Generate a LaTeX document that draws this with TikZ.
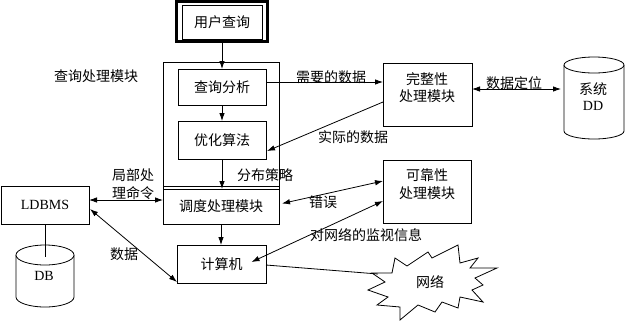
\documentclass[tikz,border=0pt]{standalone}
\usepackage{fontspec}
\setmainfont{Liberation Serif}
\newfontfamily\cjk{Noto Sans CJK SC}
\usetikzlibrary{arrows.meta,calc}
\begin{document}
\begin{tikzpicture}[x=1pt,y=-1pt,
  every node/.style={inner sep=0pt, outer sep=0pt},
  box/.style={draw, line width=0.8pt, rectangle, fill=white},
  txt/.style={font=\cjk\fontsize{14}{17}\selectfont, align=center},
  lat/.style={font=\fontsize{14}{16}\selectfont, align=center},
  ar/.style={line width=0.8pt, -{Latex[length=8pt,width=5.5pt]}},
  dar/.style={line width=0.8pt, {Latex[length=8pt,width=5.5pt]}-{Latex[length=8pt,width=5.5pt]}},
  ln/.style={line width=0.8pt}]
\useasboundingbox[fill=white] (0,0) rectangle (626,325);

% user query (double frame)
\node[box, line width=3pt, minimum width=91pt, minimum height=40pt] (uqo) at (222,21.5) {};
\node[box, minimum width=80pt, minimum height=34pt, txt] (uq) at (222,22) {用户查询};

% query processing module
\node[box, minimum width=116pt, minimum height=162pt] (qm) at (221,143) {};
\node[txt] (qmt) at (96,76) {查询处理模块};
\node[box, minimum width=88pt, minimum height=36pt, txt] (fx) at (222,87) {查询分析};
\node[box, minimum width=88pt, minimum height=38pt, txt] (yh) at (222,140) {优化算法};
\node[box, minimum width=116pt, minimum height=35pt, txt] (dd) at (221,206.5) {调度处理模块};
\coordinate (dl) at (163,186);
\coordinate (dr) at (279,186);
\draw[ln] (dl) -- (dr);
\node[txt] (fb) at (265,175) {分布策略};

% computer
\node[box, minimum width=89pt, minimum height=38pt, txt] (jsj) at (221.5,264) {计算机};

% LDBMS and DB
\node[box, minimum width=88pt, minimum height=38pt, lat] (ldbms) at (45,205) {LDBMS};
\draw[ln, fill=white] (16,255) -- (16,297) arc[start angle=180, end angle=360, x radius=29pt, y radius=10pt] -- (74,255);
\draw[ln, fill=white] (45,255) ellipse[x radius=29pt, y radius=10pt];
\coordinate (dbtop) at (45,257);
\node[lat] (db) at (44,276) {DB};
\draw[ln] (ldbms.south) -- (dbtop);

% integrity module
\node[box, minimum width=89pt, minimum height=63pt] (wz) at (427.5,94.5) {};
\node[txt] (wzt) at (427,87.5) {完整性\\处理模块};

% reliability module
\node[box, minimum width=88pt, minimum height=63pt] (kk) at (427,191.5) {};
\node[txt, font=\cjk\fontsize{14}{18}\selectfont] (kkt) at (427,184) {可靠性\\处理模块};

% system DD
\draw[ln, fill=white] (564,65) -- (564,131) arc[start angle=180, end angle=360, x radius=30pt, y radius=8pt] -- (624,65);
\draw[ln, fill=white] (594,65) ellipse[x radius=30pt, y radius=8pt];
\node[lat] (sdd) at (593,97) {{\cjk 系统}\\DD};
\coordinate (ddw) at (561,89);

% network
\draw[ln, fill=white] (372,273) -- (392,273) -- (395,258) -- (407,266) -- (428,252) -- (432,258) -- (458,245) -- (460,263) -- (478,258) -- (470,268) -- (497,268) -- (475,278) -- (483,285) -- (472,290) -- (483,302) -- (460,297) -- (458,308) -- (442,302) -- (435,312) -- (418,305) -- (400,320) -- (400,307) -- (377,305) -- (388,297) -- (368,290) -- (385,282) -- cycle;
\coordinate (nettip) at (378,274);
\node[txt] (net) at (430,282) {网络};

% vertical flow
\draw[ar] (uq.south) -- (fx.north);
\draw[ar] (fx.south) -- (yh.north);
\draw[ar] (yh.south) -- (yh.south |- dd.north);
\draw[ar] (dd.south) -- (dd.south |- jsj.north);

% connectors
\draw[ar] ($(fx.east)+(0,-5)$) -- ($(wz.west)+(0,-12.5)$);
\node[txt] (xy) at (331,77) {需要的数据};
\draw[ar] ($(wz.west)+(0,7.5)$) -- ($(yh.east)+(1,11)$);
\node[txt] (sj) at (353,137) {实际的数据};
\draw[dar] ($(wz.east)+(0,-5.5)$) -- (ddw);
\node[txt] (dw) at (514,83) {数据定位};
\draw[dar] ($(dd.east)+(3,-3)$) -- ($(kk.west)+(0,-10.5)$);
\node[txt] (cw) at (323,202) {错误};
\draw[dar] ($(jsj.center)+(30,-2)$) -- ($(kk.west)+(0,9.5)$);
\node[txt] (jk) at (366,235) {对网络的监视信息};
\draw[ln] ($(jsj.east)+(0,1)$) -- (nettip);
\draw[dar] ($(ldbms.east)+(0,-5)$) -- ($(dd.west)+(0,-6.5)$);
\node[txt, font=\cjk\fontsize{14}{18}\selectfont] (jb) at (133,184) {局部处\\理命令};
\draw[dar] ($(ldbms.south east)+(1,-15)$) -- ($(jsj.south west)+(0,-1)$);
\node[txt] (sjl) at (124,254) {数据};
\end{tikzpicture}
\end{document}
